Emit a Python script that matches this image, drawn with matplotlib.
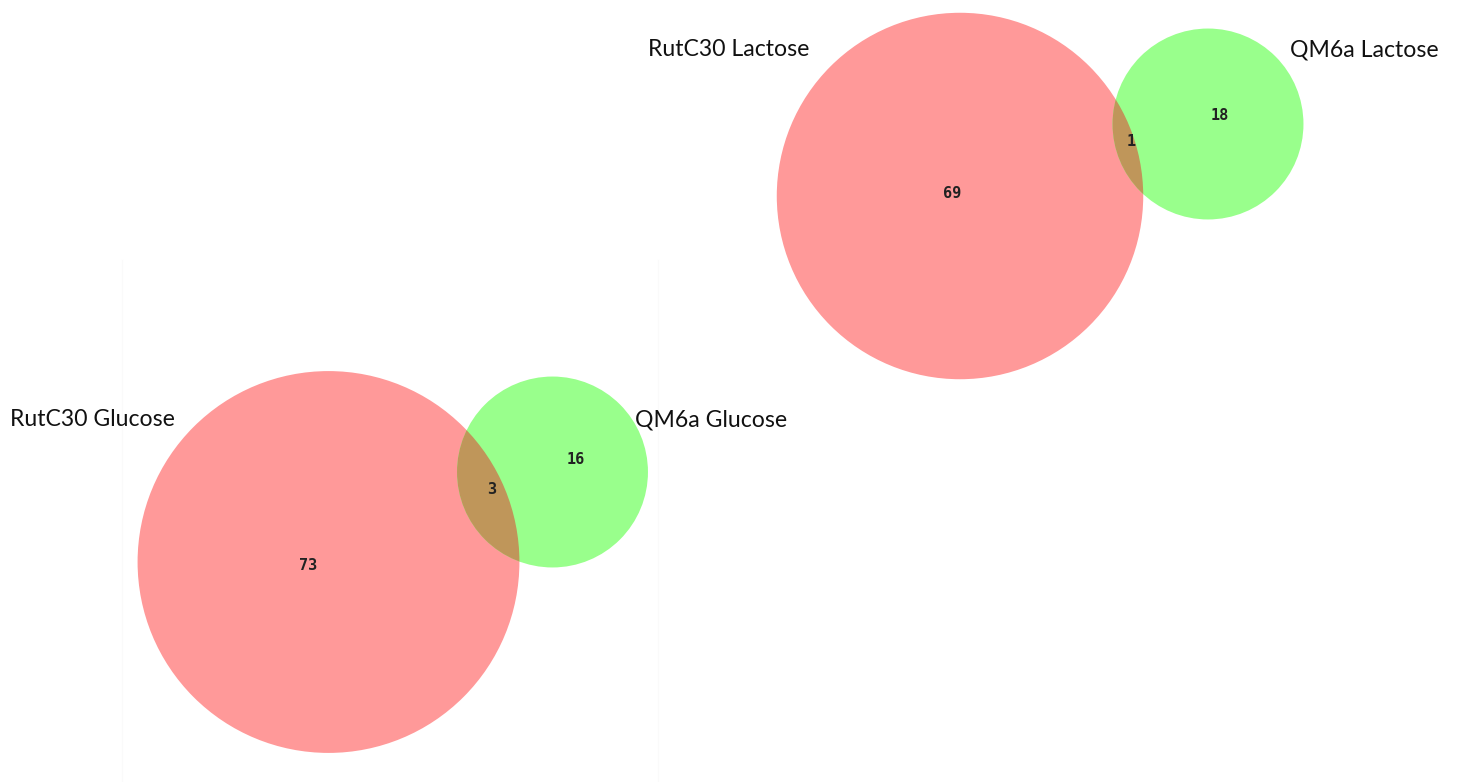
import numpy as np
import matplotlib
matplotlib.use('Agg')
import matplotlib.pyplot as plt
from matplotlib.patches import Circle

# counts per region: (only first, both, only second)
conditions = ['Glucose', 'Lactose']
rutc30_only = [73, 69]
shared = [3, 1]
qm6a_only = [16, 18]

RED = '#ff9999'
GREEN = '#99ff8c'
BOTH = '#bf965a'

# pixel layout of each diagram (axes units == pixels)
k = 21.9  # px per sqrt(count)
red_centers = [(328.5, 562), (960, 196)]
green_dirs = [np.array([224, -90.0]), np.array([248, -72.0])]
label_pos = {
    'Glucose': [(10, 420), (635, 420)],
    'Lactose': [(648, 50), (1290, 50)],
}
num_pos = {
    'Glucose': [(308, 565), (492, 490), (576, 459)],
    'Lactose': [(952, 193), (1131, 142), (1220, 115)],
}

fig = plt.figure(figsize=(14.62, 7.82), dpi=100)
ax = fig.add_axes([0, 0, 1, 1])
ax.set_xlim(0, 1462)
ax.set_ylim(782, 0)
ax.set_aspect('equal')
ax.axis('off')

# faint frame left over from the glucose panel
ax.plot([122, 122], [260, 782], color='#fafafa', lw=1)
ax.plot([658, 658], [260, 782], color='#fafafa', lw=1)

for i, cond in enumerate(conditions):
    r_red = k * np.sqrt(rutc30_only[i] + shared[i])
    r_green = k * np.sqrt(qm6a_only[i] + shared[i])
    cx, cy = red_centers[i]
    gx, gy = np.array([cx, cy]) + green_dirs[i]

    red = Circle((cx, cy), r_red, facecolor=RED, edgecolor='none')
    green = Circle((gx, gy), r_green, facecolor=GREEN, edgecolor='none')
    ax.add_patch(red)
    ax.add_patch(green)
    both = Circle((gx, gy), r_green, facecolor=BOTH, edgecolor='none')
    ax.add_patch(both)
    both.set_clip_path(Circle((cx, cy), r_red, transform=ax.transData))

    vals = [rutc30_only[i], shared[i], qm6a_only[i]]
    for (x, y), v in zip(num_pos[cond], vals):
        ax.text(x, y, str(v), ha='center', va='center', fontsize=11,
                family='DejaVu Sans Mono', fontweight='bold', color='#222222')

    (lx1, ly1), (lx2, ly2) = label_pos[cond]
    ax.text(lx1, ly1, 'RutC30 ' + cond, ha='left', va='center', fontsize=16.6,
            family='Lato', color='#111111')
    ax.text(lx2, ly2, 'QM6a ' + cond, ha='left', va='center', fontsize=16.6,
            family='Lato', color='#111111')

fig.savefig('out.png', dpi=100)
